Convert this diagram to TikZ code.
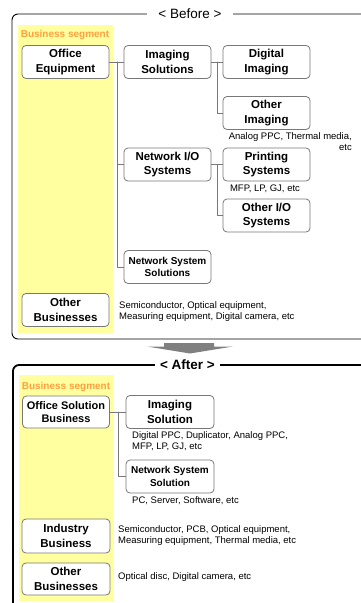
\documentclass[tikz,border=0pt]{standalone}
\usepackage{fontspec}
\setmainfont{Liberation Sans}
\usetikzlibrary{positioning}
\definecolor{segyellow}{RGB}{255,255,160}
\definecolor{segorange}{RGB}{255,160,64}
\definecolor{boxgray}{RGB}{120,120,120}
\definecolor{arrowgray}{RGB}{128,128,128}
\begin{document}
\begin{tikzpicture}[line cap=round,line join=round,x=1pt,y=-1pt,
  segbox/.style={draw=boxgray,line width=0.8pt,rounded corners=4pt,fill=white,
    minimum width=87pt,minimum height=33pt,align=center,inner sep=1pt,
    font=\bfseries\fontsize{11.5}{14.5}\selectfont},
  smallbox/.style={segbox,font=\bfseries\fontsize{10}{12.5}\selectfont},
  note/.style={align=left,inner sep=0pt,font=\fontsize{9.5}{11}\selectfont},
  conn/.style={draw=boxgray,line width=0.8pt},
  title/.style={fill=white,inner ysep=2pt,font=\fontsize{13.5}{16}\selectfont},
  seglabel/.style={text=segorange,inner sep=0pt,font=\bfseries\fontsize{10}{12}\selectfont}]
\useasboundingbox (0,0) rectangle (361,603);
% before
\draw [line width=0.9pt,rounded corners=6pt] (362,14) -- (12,14) -- (12,339) -- (362,339);
\fill [segyellow] (18,25) rectangle (113,333);
\node [title,inner xsep=11pt] (before) at (190,14) {< Before >};
\node [seglabel] (seg1) at (65,35) {Business segment};
\node [segbox] (oe) at (65.5,62) {Office\\Equipment};
\node [segbox] (is) at (167.5,62) {Imaging\\Solutions};
\node [segbox] (di) at (266.5,62) {Digital\\Imaging};
\node [segbox] (oi) at (266.5,113) {Other\\Imaging};
\node [segbox] (nio) at (167.5,164.5) {Network I/O\\Systems};
\node [segbox] (ps) at (266.5,164.5) {Printing\\Systems};
\node [segbox] (oio) at (266.5,215.5) {Other I/O\\Systems};
\node [smallbox] (nss) at (167.5,267) {Network System\\Solutions};
\node [segbox] (ob) at (65.5,310) {Other\\Businesses};
\node [note,align=right,anchor=north east] (oinote) at (352,132) {Analog PPC, Thermal media,\\etc};
\node [note] (psnote) at (265,188.5) {MFP, LP, GJ, etc};
\node [note,anchor=west] (obnote) at (119,311.5) {Semiconductor, Optical equipment,\\Measuring equipment, Digital camera, etc};
\coordinate (t1) at (117,62);
\coordinate (t2) at (217,62);
\coordinate (t3) at (217,164.5);
\draw [conn] (oe.east) -- (is.west);
\draw [conn] (t1) |- (nio.west);
\draw [conn] (t1) |- (nss.west);
\draw [conn] (is.east) -- (di.west);
\draw [conn] (t2) |- (oi.west);
\draw [conn] (nio.east) -- (ps.west);
\draw [conn] (t3) |- (oio.west);
% arrow
\fill [arrowgray] (164,343) -- (214,343) -- (214,346.5) -- (233,346.5) -- (190,353.5) -- (147,346.5) -- (164,346.5) -- cycle;
% after
\draw [line width=1.8pt,rounded corners=6pt] (362,365) -- (13,365) -- (13,604);
\fill [segyellow] (19,375) rectangle (114,601);
\node [title,inner xsep=5pt,font=\bfseries\fontsize{13.5}{16}\selectfont] (after) at (187.5,365) {< After >};
\node [seglabel] (seg2) at (66,386.5) {Business segment};
\node [segbox,minimum height=32pt,font=\bfseries\fontsize{11}{13.5}\selectfont] (osb) at (66,412) {Office Solution\\Business};
\node [segbox,minimum width=88pt] (isn) at (170,412) {Imaging\\Solution};
\node [smallbox,minimum width=88pt] (nssn) at (170,476.5) {Network System\\Solution};
\node [segbox,minimum width=88pt,minimum height=34pt] (ib) at (66,536) {Industry\\Business};
\node [segbox,minimum width=88pt,minimum height=32pt] (ob2) at (66,579) {Other\\Businesses};
\node [note,anchor=north west] (isnote) at (132,431) {Digital PPC, Duplicator, Analog PPC,\\MFP, LP, GJ, etc};
\node [note,anchor=west] (nssnote) at (132,501) {PC, Server, Software, etc};
\node [note,anchor=west] (ibnote) at (118,536) {Semiconductor, PCB, Optical equipment,\\Measuring equipment, Thermal media, etc};
\node [note,anchor=west] (obnote2) at (118,577) {Optical disc, Digital camera, etc};
\coordinate (t4) at (118,412);
\draw [conn] (osb.east) -- (isn.west);
\draw [conn] (t4) |- (nssn.west);
\end{tikzpicture}
\end{document}
